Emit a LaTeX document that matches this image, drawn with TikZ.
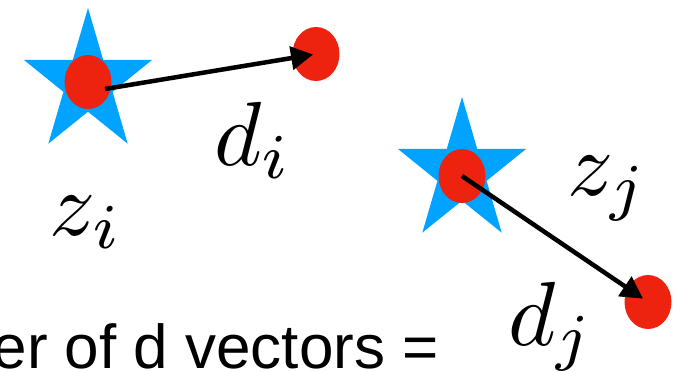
\documentclass[tikz,border=0pt]{standalone}
\usepackage{graphicx}
\usepackage{fontspec}
\usepackage{tikz}
\usetikzlibrary{shapes.geometric,arrows.meta}
\newfontfamily\captionsans{Liberation Sans}
\definecolor{StarBlue}{RGB}{0, 163, 255}
\definecolor{DotRed}{RGB}{237, 35, 16}
\newcommand{\biglabel}[1]{\scalebox{9.1}{$#1$}}

\begin{document}
\begin{tikzpicture}[x=1pt, y=1pt,
    dot/.style={ellipse, fill=DotRed, inner sep=0pt, minimum width=47pt, minimum height=54pt},
    vec/.style={line width=4.5pt, -{Triangle[length=22pt 0, width=23pt 0]}},
    lbl/.style={inner sep=0pt, anchor=base}]
    \clip (0,0) rectangle (673,-372);
    % Stars
    \foreach \cx/\cy in {88/-83, 462/-172} {
        \fill[StarBlue, shift={(\cx,\cy)}, xscale=0.9] (90:75)
            \foreach \k in {1,...,9} { -- ({90+36*\k}:{ifthenelse(mod(\k,2)==1,28.7,75)}) } -- cycle;
    }
    % Red dots
    \node[dot] (zi) at (88,-82) {};
    \node[dot] (di) at (316,-54) {};
    \node[dot] (zj) at (462,-176) {};
    \node[dot] (dj) at (648,-302) {};
    % Vectors
    \coordinate (ti) at (105,-89);
    \draw[vec, shorten >=3pt] (ti) -- (di.center);
    \draw[vec, shorten >=6pt] (zj.center) -- (dj.center);
    % Labels
    \node[lbl] (lzi) at (86,-235) {\biglabel{z_i}};
    \node[lbl] (ldi) at (253,-165) {\biglabel{d_i}};
    \node[lbl] (lzj) at (608,-195) {\biglabel{z_j}};
    \node[lbl] (ldj) at (551,-345) {\biglabel{d_j}};
    \node[inner sep=0pt, anchor=base east, font=\captionsans\fontsize{62}{70}\selectfont] (count) at (439,-368) {er of d vectors =};
\end{tikzpicture}
\end{document}
